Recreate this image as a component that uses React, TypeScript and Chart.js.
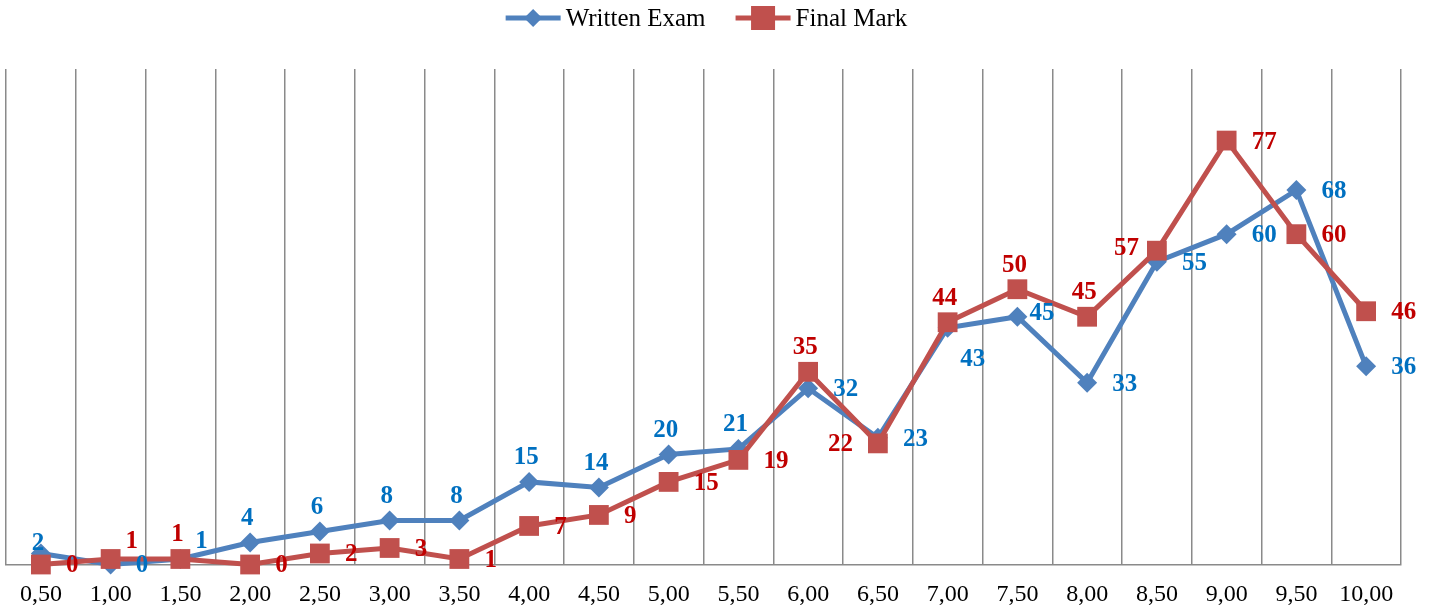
import React, { useEffect, useRef } from "react";
import { Chart, registerables } from "chart.js";

Chart.register(...registerables);

const categories = ["0,50", "1,00", "1,50", "2,00", "2,50", "3,00", "3,50", "4,00", "4,50", "5,00", "5,50", "6,00", "6,50", "7,00", "7,50", "8,00", "8,50", "9,00", "9,50", "10,00"];
const writtenExam = [2, 0, 1, 4, 6, 8, 8, 15, 14, 20, 21, 32, 23, 43, 45, 33, 55, 60, 68, 36];
const finalMark = [0, 1, 1, 0, 2, 3, 1, 7, 9, 15, 19, 35, 22, 44, 50, 45, 57, 77, 60, 46];
const seriesNames = ["Written Exam", "Final Mark"];
const yMin = 0;
const yMax = 90;

// label placement codes (style only)
const writtenLabelPos = ["n", "r", "ar", "a", "a", "a", "a", "a", "a", "a", "a", "r", "r", "br", "rn", "r", "r", "r", "r", "r"];
const finalLabelPos = ["r", "ar", "a", "r", "r", "r", "r", "r", "r", "r", "r", "a", "l", "a", "a", "a", "ln", "r", "r", "r"];

const BLUE = "#4F81BD";
const RED = "#C0504D";
const BLUE_TXT = "#0070C0";
const RED_TXT = "#C00000";
const SERIF = "'Times New Roman', 'Liberation Serif', serif";

const labelPlugin = {
  id: "valueLabels",
  afterDatasetsDraw(chart: any) {
    const ctx = chart.ctx;
    const specs = [
      { idx: 0, pos: writtenLabelPos, color: BLUE_TXT },
      { idx: 1, pos: finalLabelPos, color: RED_TXT },
    ];
    ctx.save();
    ctx.font = `bold 25px ${SERIF}`;
    ctx.textBaseline = "middle";
    for (const s of specs) {
      const meta = chart.getDatasetMeta(s.idx);
      const values = chart.data.datasets[s.idx].data;
      ctx.fillStyle = s.color;
      meta.data.forEach((pt: any, i: number) => {
        const txt = String(values[i]);
        const code = s.pos[i];
        let x = pt.x;
        let y = pt.y;
        let align: CanvasTextAlign = "center";
        if (code === "r") { align = "left"; x += 25; y += 1.5; }
        else if (code === "rn") { align = "left"; x += 12; y -= 3; }
        else if (code === "a") { x -= 3; y -= 24; }
        else if (code === "n") { x -= 3; y -= 10; }
        else if (code === "ar") { x += 21; y -= 17; }
        else if (code === "l") { align = "right"; x -= 25; y += 1; }
        else if (code === "ln") { align = "right"; x -= 18; y -= 2; }
        else if (code === "br") { x += 25; y += 32; }
        ctx.textAlign = align;
        ctx.fillText(txt, x, y);
      });
    }
    ctx.restore();
  },
};

const legendPlugin = {
  id: "customLegend",
  afterDraw(chart: any) {
    const ctx = chart.ctx;
    ctx.save();
    ctx.font = `25px ${SERIF}`;
    ctx.textBaseline = "middle";
    ctx.textAlign = "left";
    const lineLen = 55;
    const textGap = 5;
    const itemGap = 30;
    const w1 = ctx.measureText(seriesNames[0]).width;
    const w2 = ctx.measureText(seriesNames[1]).width;
    const total = lineLen + textGap + w1 + itemGap + lineLen + textGap + w2;
    const cx = chart.width / 2 - 10;
    const y = 18;
    let x = cx - total / 2;
    // blue item
    ctx.strokeStyle = BLUE;
    ctx.lineWidth = 5;
    ctx.beginPath();
    ctx.moveTo(x, y);
    ctx.lineTo(x + lineLen, y);
    ctx.stroke();
    ctx.fillStyle = BLUE;
    const mx = x + lineLen / 2;
    ctx.beginPath();
    ctx.moveTo(mx - 9, y);
    ctx.lineTo(mx, y - 9);
    ctx.lineTo(mx + 9, y);
    ctx.lineTo(mx, y + 9);
    ctx.closePath();
    ctx.fill();
    ctx.fillStyle = "#000";
    ctx.fillText(seriesNames[0], x + lineLen + textGap, y + 1);
    x += lineLen + textGap + w1 + itemGap;
    // red item
    ctx.strokeStyle = RED;
    ctx.beginPath();
    ctx.moveTo(x, y);
    ctx.lineTo(x + lineLen, y);
    ctx.stroke();
    ctx.fillStyle = RED;
    const rx = x + lineLen / 2;
    ctx.fillRect(rx - 12, y - 12, 24, 24);
    ctx.fillStyle = "#000";
    ctx.fillText(seriesNames[1], x + lineLen + textGap, y + 1);
    ctx.restore();
  },
};

export default function App() {
  const canvasRef = useRef<HTMLCanvasElement | null>(null);

  useEffect(() => {
    const canvas = canvasRef.current;
    if (!canvas) return;
    const chart = new Chart(canvas, {
      type: "line",
      data: {
        labels: categories,
        datasets: [
          {
            label: seriesNames[0],
            data: writtenExam,
            borderColor: BLUE,
            backgroundColor: BLUE,
            borderWidth: 5,
            pointStyle: "rectRot",
            pointRadius: 10,
            pointHoverRadius: 10,
            pointBorderWidth: 0,
            pointBackgroundColor: BLUE,
            tension: 0,
            clip: false,
            order: 1,
          } as any,
          {
            label: seriesNames[1],
            data: finalMark,
            borderColor: RED,
            backgroundColor: RED,
            borderWidth: 5,
            pointStyle: "rect",
            pointRadius: 14,
            pointHoverRadius: 14,
            pointBorderWidth: 0,
            pointBackgroundColor: RED,
            tension: 0,
            clip: false,
            order: 0,
          } as any,
        ],
      },
      options: {
        animation: false,
        responsive: true,
        maintainAspectRatio: false,
        layout: { autoPadding: false, padding: { left: 6, right: 32, top: 69, bottom: 0 } },
        plugins: {
          legend: { display: false },
          tooltip: { enabled: false },
        },
        scales: {
          x: {
            offset: true,
            grid: {
              display: true,
              offset: true,
              color: "#8a8a8a",
              lineWidth: 1.5,
              drawTicks: false,
            },
            border: { display: true, color: "#8a8a8a", width: 1.5 },
            ticks: {
              color: "#000",
              font: { family: SERIF, size: 24 },
              padding: 16,
              maxRotation: 0,
              autoSkip: false,
            },
            afterFit: (scale: any) => {
              scale.paddingLeft = 0;
              scale.paddingRight = 0;
              scale.height = 49.5;
            },
          },
          y: {
            display: false,
            min: yMin,
            max: yMax,
          },
        },
      },
      plugins: [labelPlugin, legendPlugin],
    });
    return () => chart.destroy();
  }, []);

  return (
    <div style={{ position: "absolute", left: 0, top: 0, width: 1433, height: 614, background: "#fff" }}>
      <canvas ref={canvasRef} />
    </div>
  );
}
